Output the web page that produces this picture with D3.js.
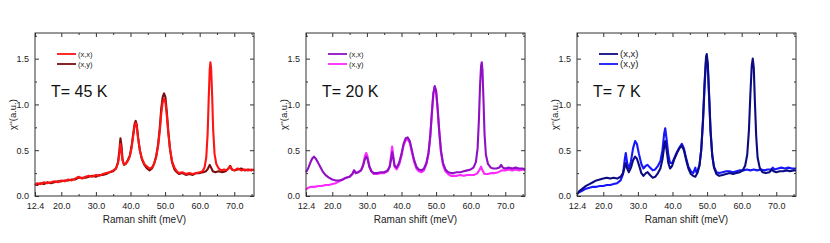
<!DOCTYPE html>
<html>
<head>
<meta charset="utf-8">
<script src="https://cdn.jsdelivr.net/npm/d3@7"></script>
<style>
  body { margin: 0; background: #fff; }
  text { font-family: "Liberation Sans", Arial, sans-serif; }
</style>
</head>
<body>
<svg id="chart" width="830" height="243"></svg>
<script>
// tick labels
const xTickValues = [12.4, 20, 30, 40, 50, 60, 70];
const xMinorTicks = [25, 35, 45, 55, 65, 75];
const yTickValues = [0, 0.5, 1.0, 1.5];
const yMinorTicks = [0.25, 0.75, 1.25, 1.75];

// T = 45 K
const t45xx = [[12.4,0.12],[13,0.14],[14,0.13],[15,0.15],[16,0.14],[17,0.15],[18,0.16],[19,0.15],[20,0.17],[21,0.16],[22,0.18],[23,0.17],[24,0.19],[25,0.21],[26,0.19],[27,0.21],[28,0.22],[29,0.21],[30,0.23],[31,0.22],[32,0.24],[33,0.25],[34,0.26],[35,0.28],[35.8,0.30],[36.4,0.36],[36.8,0.46],[37.1,0.57],[37.4,0.50],[37.7,0.39],[38.1,0.35],[38.6,0.35],[39.2,0.38],[39.8,0.43],[40.3,0.52],[40.8,0.66],[41.2,0.77],[41.5,0.80],[41.8,0.76],[42.2,0.63],[42.7,0.50],[43.3,0.41],[44,0.35],[44.8,0.32],[45.5,0.30],[46.2,0.31],[46.8,0.35],[47.4,0.42],[48,0.55],[48.5,0.72],[48.9,0.90],[49.3,1.02],[49.7,1.06],[50.1,1.02],[50.5,0.88],[50.9,0.70],[51.4,0.52],[52,0.38],[52.7,0.31],[53.4,0.27],[54,0.25],[55,0.26],[56,0.24],[57,0.25],[58,0.24],[59,0.25],[60,0.26],[60.8,0.27],[61.4,0.31],[61.9,0.42],[62.3,0.68],[62.6,1.05],[62.9,1.38],[63.1,1.46],[63.3,1.40],[63.6,1.10],[63.9,0.72],[64.3,0.46],[64.8,0.35],[65.5,0.30],[66.3,0.28],[67,0.29],[67.8,0.28],[68.5,0.31],[68.9,0.32],[69.4,0.29],[70,0.28],[71,0.30],[72,0.28],[73,0.29],[74,0.28],[75,0.29],[75.7,0.28]];
const t45xy = [[12.4,0.13],[13,0.12],[14,0.14],[15,0.13],[16,0.15],[17,0.14],[18,0.15],[19,0.16],[20,0.16],[21,0.17],[22,0.17],[23,0.18],[24,0.18],[25,0.20],[26,0.20],[27,0.20],[28,0.21],[29,0.22],[30,0.21],[31,0.23],[32,0.23],[33,0.24],[34,0.26],[35,0.27],[35.8,0.30],[36.4,0.37],[36.8,0.50],[37.1,0.63],[37.4,0.55],[37.7,0.40],[38.1,0.34],[38.6,0.35],[39.2,0.39],[39.8,0.44],[40.3,0.54],[40.8,0.68],[41.2,0.79],[41.5,0.82],[41.8,0.78],[42.2,0.64],[42.7,0.50],[43.3,0.40],[44,0.34],[44.8,0.30],[45.5,0.28],[46.2,0.30],[46.8,0.35],[47.4,0.43],[48,0.57],[48.5,0.76],[48.9,0.96],[49.3,1.08],[49.7,1.12],[50.1,1.08],[50.5,0.92],[50.9,0.72],[51.4,0.52],[52,0.37],[52.7,0.29],[53.4,0.26],[54,0.24],[55,0.25],[56,0.23],[57,0.24],[58,0.23],[59,0.25],[60,0.25],[61,0.26],[61.8,0.27],[62.4,0.30],[62.9,0.34],[63.3,0.31],[63.8,0.27],[64.5,0.26],[65.5,0.27],[66.5,0.26],[67.5,0.27],[68.3,0.30],[68.8,0.33],[69.3,0.29],[70,0.28],[71,0.29],[72,0.30],[73,0.28],[74,0.29],[75,0.28],[75.7,0.29]];

// T = 20 K
const t20xx = [[12.4,0.26],[13,0.30],[13.6,0.36],[14.2,0.41],[14.7,0.43],[15.2,0.41],[15.8,0.37],[16.5,0.32],[17.2,0.27],[18,0.23],[19,0.20],[20,0.18],[21,0.17],[22,0.17],[23,0.18],[24,0.20],[25,0.21],[25.8,0.24],[26.3,0.28],[26.8,0.25],[27.5,0.26],[28.3,0.28],[28.9,0.33],[29.4,0.40],[29.8,0.43],[30.2,0.40],[30.7,0.32],[31.3,0.27],[32,0.25],[33,0.25],[34,0.26],[35,0.26],[36,0.28],[36.6,0.32],[37.0,0.40],[37.3,0.48],[37.6,0.42],[38,0.33],[38.6,0.31],[39.3,0.36],[40,0.46],[40.6,0.57],[41.2,0.63],[41.8,0.64],[42.4,0.60],[43,0.50],[43.6,0.40],[44.3,0.32],[45,0.29],[45.8,0.28],[46.5,0.30],[47.2,0.36],[47.8,0.47],[48.3,0.65],[48.8,0.92],[49.2,1.12],[49.6,1.20],[50,1.15],[50.4,0.98],[50.9,0.72],[51.4,0.50],[52,0.36],[52.7,0.29],[53.5,0.26],[54.3,0.25],[55,0.25],[56,0.26],[57,0.26],[58,0.27],[59,0.28],[60,0.29],[60.8,0.31],[61.5,0.37],[62,0.52],[62.4,0.85],[62.7,1.20],[63.0,1.42],[63.2,1.46],[63.4,1.38],[63.7,1.05],[64.0,0.68],[64.4,0.45],[65,0.35],[65.8,0.31],[66.5,0.30],[67.5,0.30],[68.3,0.31],[68.8,0.34],[69.3,0.31],[70,0.30],[71,0.31],[72,0.30],[73,0.31],[74,0.30],[75,0.30],[75.7,0.29]];
const t20xy = [[12.4,0.07],[13,0.09],[14,0.10],[15,0.10],[16,0.11],[17,0.11],[18,0.12],[19,0.12],[20,0.13],[21,0.14],[22,0.16],[23,0.18],[24,0.20],[25,0.21],[25.8,0.24],[26.3,0.28],[26.8,0.25],[27.5,0.26],[28.3,0.28],[28.9,0.34],[29.4,0.43],[29.8,0.47],[30.2,0.43],[30.7,0.33],[31.3,0.27],[32,0.24],[33,0.24],[34,0.25],[35,0.25],[36,0.27],[36.6,0.33],[37.0,0.44],[37.3,0.54],[37.6,0.45],[38,0.32],[38.6,0.29],[39.3,0.34],[40,0.44],[40.6,0.55],[41.2,0.61],[41.8,0.62],[42.4,0.58],[43,0.48],[43.6,0.38],[44.3,0.30],[45,0.27],[45.8,0.26],[46.5,0.28],[47.2,0.35],[47.8,0.46],[48.3,0.64],[48.8,0.91],[49.2,1.11],[49.6,1.19],[50,1.14],[50.4,0.97],[50.9,0.70],[51.4,0.48],[52,0.34],[52.7,0.27],[53.5,0.24],[54.3,0.22],[55,0.22],[56,0.22],[57,0.23],[58,0.22],[59,0.23],[60,0.23],[61,0.23],[62,0.25],[62.6,0.29],[63,0.32],[63.4,0.28],[64,0.24],[65,0.24],[66,0.25],[67,0.25],[68,0.26],[69,0.28],[70,0.28],[71,0.29],[72,0.28],[73,0.29],[74,0.28],[75,0.29],[75.7,0.28]];

// T = 7 K
const t7xx = [[12.4,0.02],[13,0.05],[14,0.08],[15,0.11],[16,0.13],[17,0.15],[18,0.17],[19,0.18],[20,0.19],[21,0.20],[22,0.19],[23,0.20],[24,0.19],[25,0.21],[25.7,0.25],[26.2,0.32],[26.5,0.36],[26.9,0.30],[27.4,0.26],[28,0.31],[28.6,0.39],[29.2,0.43],[29.7,0.41],[30.3,0.34],[31,0.25],[31.6,0.22],[32.3,0.25],[32.8,0.26],[33.5,0.23],[34.3,0.20],[35,0.21],[35.8,0.25],[36.5,0.30],[37.1,0.40],[37.6,0.54],[37.9,0.60],[38.3,0.50],[38.8,0.36],[39.3,0.30],[39.9,0.33],[40.6,0.41],[41.3,0.47],[42,0.52],[42.7,0.55],[43.3,0.50],[43.9,0.40],[44.6,0.30],[45.3,0.24],[46,0.22],[46.6,0.21],[47.2,0.25],[47.8,0.33],[48.3,0.50],[48.8,0.82],[49.3,1.25],[49.7,1.52],[49.9,1.55],[50.2,1.45],[50.6,1.10],[51,0.72],[51.5,0.44],[52,0.31],[52.7,0.24],[53.5,0.22],[54.5,0.23],[55.5,0.24],[56.5,0.25],[57.5,0.24],[58.5,0.25],[59.5,0.26],[60.3,0.28],[61,0.33],[61.6,0.45],[62.1,0.72],[62.5,1.10],[62.9,1.42],[63.2,1.50],[63.5,1.40],[63.8,1.05],[64.2,0.65],[64.6,0.42],[65.2,0.31],[66,0.26],[67,0.25],[68,0.26],[68.7,0.29],[69.2,0.27],[70,0.26],[71,0.27],[72,0.27],[73,0.28],[74,0.27],[75,0.28],[75.7,0.28]];
const t7xy = [[12.4,0.02],[13,0.04],[14,0.06],[15,0.08],[16,0.09],[17,0.10],[18,0.10],[19,0.11],[20,0.11],[21,0.12],[22,0.12],[23,0.13],[24,0.14],[25,0.17],[25.7,0.24],[26.2,0.40],[26.5,0.47],[26.9,0.36],[27.4,0.30],[28,0.38],[28.6,0.52],[29.2,0.60],[29.7,0.57],[30.3,0.46],[31,0.35],[31.6,0.30],[32.3,0.33],[32.8,0.34],[33.5,0.31],[34.3,0.28],[35,0.29],[35.8,0.33],[36.5,0.38],[37.1,0.50],[37.6,0.68],[37.9,0.74],[38.3,0.62],[38.8,0.45],[39.3,0.36],[39.9,0.36],[40.6,0.42],[41.3,0.48],[42,0.53],[42.7,0.57],[43.3,0.52],[43.9,0.42],[44.6,0.32],[45.3,0.27],[46,0.25],[46.6,0.31],[46.9,0.26],[47.2,0.27],[47.8,0.34],[48.3,0.50],[48.8,0.80],[49.3,1.22],[49.7,1.48],[49.9,1.50],[50.2,1.42],[50.6,1.06],[51,0.70],[51.5,0.44],[52,0.32],[52.7,0.26],[53.5,0.25],[54.5,0.26],[55.5,0.27],[56.5,0.27],[57.5,0.26],[58.5,0.27],[59.5,0.28],[60.5,0.28],[61.5,0.29],[62.5,0.28],[63.5,0.29],[64.5,0.28],[65.5,0.29],[66.5,0.28],[67.5,0.29],[68.5,0.29],[69,0.31],[69.5,0.29],[70.5,0.30],[71.5,0.31],[72.5,0.30],[73.5,0.31],[74.5,0.30],[75.7,0.30]];

const panels = [
  {left: 35,  label: "T= 45 K", xx: t45xx, xy: t45xy, cxx: "#ff1414", cxy: "#7a0c0c", legendSize: 7.5},
  {left: 306, label: "T= 20 K", xx: t20xx, xy: t20xy, cxx: "#9010c4", cxy: "#ff28ff", legendSize: 7.5},
  {left: 577, label: "T= 7 K",  xx: t7xx,  xy: t7xy,  cxx: "#0c0c82", cxy: "#1616ff", legendSize: 9.5}
];

const plotTop = 33, width = 219, height = 163;
const svg = d3.select("#chart");

panels.forEach(function(p) {
  const g = svg.append("g").attr("transform", `translate(${p.left},${plotTop})`);

  const x = d3.scaleLinear().domain([12.4, 75.7]).range([0, width]);
  const y = d3.scaleLinear().domain([0, 1.78]).range([height, 0]);

  // lines
  const line = d3.line()
    .x(function(d) { return x(d[0]); })
    .y(function(d) { return y(d[1]); });

  g.append("path").datum(p.xy)
    .attr("d", line).attr("fill", "none")
    .attr("stroke", p.cxy).attr("stroke-width", 2.1).attr("stroke-linejoin", "round");
  g.append("path").datum(p.xx)
    .attr("d", line).attr("fill", "none")
    .attr("stroke", p.cxx).attr("stroke-width", 2.1).attr("stroke-linejoin", "round");

  // axes (inward ticks, mirrored)
  const axisColor = "#333";
  function styleAxis(sel) {
    sel.select(".domain").remove();
    sel.selectAll("line").attr("stroke", axisColor);
    sel.selectAll("text").attr("fill", "#222").style("font-size", "9px");
  }
  g.append("g").attr("transform", `translate(0,${height})`)
    .call(d3.axisBottom(x).tickValues(xTickValues).tickSize(-4).tickPadding(7)
      .tickFormat(function(d) { return d.toFixed(1); }))
    .call(styleAxis);
  g.append("g").attr("transform", `translate(0,${height})`)
    .call(d3.axisBottom(x).tickValues(xMinorTicks.filter(function(v){ return v < 75.7; })).tickSize(-2).tickFormat(""))
    .call(styleAxis);
  g.append("g")
    .call(d3.axisTop(x).tickValues(xTickValues).tickSize(-4).tickFormat(""))
    .call(styleAxis);
  g.append("g")
    .call(d3.axisTop(x).tickValues(xMinorTicks.filter(function(v){ return v < 75.7; })).tickSize(-2).tickFormat(""))
    .call(styleAxis);

  g.append("g")
    .call(d3.axisLeft(y).tickValues(yTickValues).tickSize(-4).tickPadding(6)
      .tickFormat(d3.format(".1f")))
    .call(styleAxis);
  g.append("g")
    .call(d3.axisLeft(y).tickValues(yMinorTicks).tickSize(-2).tickFormat(""))
    .call(styleAxis);
  g.append("g").attr("transform", `translate(${width},0)`)
    .call(d3.axisRight(y).tickValues(yTickValues).tickSize(-4).tickFormat(""))
    .call(styleAxis);
  g.append("g").attr("transform", `translate(${width},0)`)
    .call(d3.axisRight(y).tickValues(yMinorTicks).tickSize(-2).tickFormat(""))
    .call(styleAxis);

  // frame
  g.append("rect")
    .attr("width", width).attr("height", height)
    .attr("fill", "none").attr("stroke", axisColor).attr("stroke-width", 1);

  // axis titles
  g.append("text")
    .attr("x", width / 2).attr("y", height + 27)
    .attr("text-anchor", "middle").style("font-size", "10px").attr("fill", "#222")
    .text("Raman shift (meV)");
  g.append("text")
    .attr("transform", "rotate(-90)")
    .attr("x", -height / 2).attr("y", -19)
    .attr("text-anchor", "middle").style("font-size", "9.5px").attr("fill", "#222")
    .text("χ''(a.u.)");

  // legend
  const lg = g.append("g").attr("transform", "translate(22,21)");
  [[p.cxx, "(x,x)"], [p.cxy, "(x,y)"]].forEach(function(item, i) {
    lg.append("line").attr("x1", 0).attr("x2", 19).attr("y1", i * 10).attr("y2", i * 10)
      .attr("stroke", item[0]).attr("stroke-width", 1.8);
    lg.append("text").attr("x", 21).attr("y", i * 10).attr("dy", "0.35em")
      .style("font-size", p.legendSize + "px").attr("fill", "#222").text(item[1]);
  });

  // temperature label
  g.append("text")
    .attr("x", 16).attr("y", 64)
    .style("font-size", "16px").attr("fill", "#111")
    .text(p.label);
});
</script>
</body>
</html>
